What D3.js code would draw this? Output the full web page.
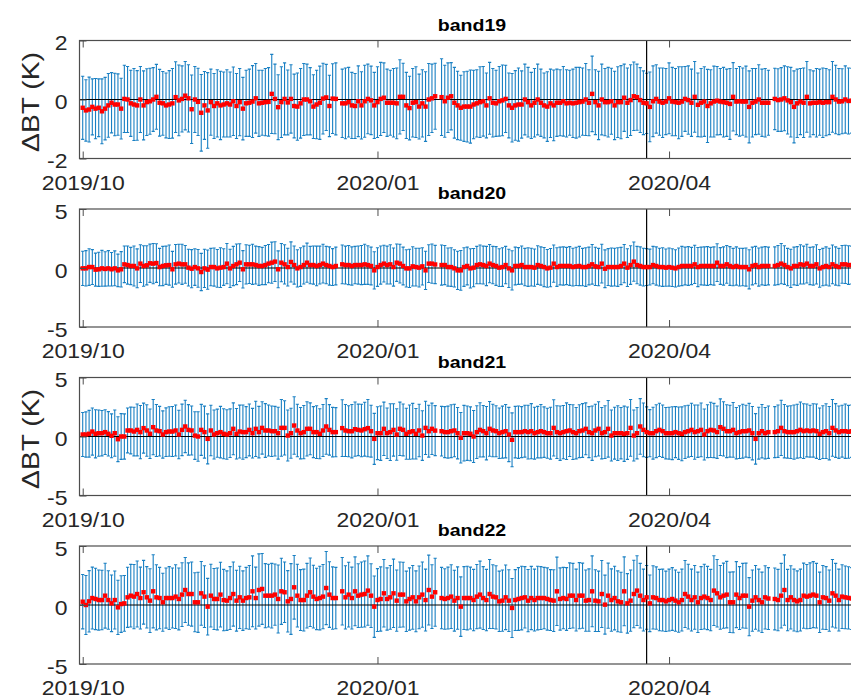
<!DOCTYPE html>
<meta charset="utf-8">
<html>
<head>
<script src="https://d3js.org/d3.v7.min.js"></script>
<style>
body { margin: 0; background: #ffffff; }
svg text { font-family: "Liberation Sans", Arial, Helvetica, sans-serif; }
</style>
</head>
<body>
<div id="chart"></div>
<script>

// one value per day starting at firstDay, null = no observation that day
var firstDay = new Date(2019, 9, 1);
var bandNames = ["band19", "band20", "band21", "band22"];
var yDomains = [[-2, 2], [-5, 5], [-5, 5], [-5, 5]];
var yTicks = [[-2, 0, 2], [-5, 0, 5], [-5, 0, 5], [-5, 0, 5]];
var xTicks = [new Date(2019, 9, 1), new Date(2020, 0, 1), new Date(2020, 3, 1)];
var xTickLabels = ["2019/10", "2020/01", "2020/04"];
var eventDay = new Date(2020, 2, 25);
var yLabelText = "\u0394BT (K)";
var yLabelPanels = [0, 2];

var band19Mean = [
-0.28,-0.37,-0.34,-0.25,-0.31,-0.28,-0.40,-0.31,-0.20,-0.11,
-0.17,-0.17,-0.31,0.02,0.00,-0.13,-0.17,-0.20,0.00,-0.20,
-0.09,-0.06,0.00,0.09,-0.11,-0.13,-0.20,-0.17,-0.13,0.08,
-0.03,0.02,0.13,0.04,-0.33,0.00,-0.08,-0.45,-0.20,-0.37,
-0.09,-0.22,-0.13,-0.20,-0.17,-0.13,-0.17,-0.06,-0.22,-0.09,
-0.31,-0.13,-0.11,-0.07,0.04,-0.13,-0.11,-0.09,-0.08,0.19,
0.02,-0.26,-0.09,0.02,-0.10,0.02,-0.22,-0.24,-0.13,0.00,
0.00,-0.06,-0.24,-0.17,-0.11,0.03,0.07,-0.22,0.03,0.02,
null,-0.13,-0.13,-0.09,-0.20,-0.22,-0.06,-0.20,-0.06,0.02,
-0.03,-0.20,-0.09,0.02,0.06,-0.11,-0.11,-0.11,-0.13,0.09,
0.09,-0.20,-0.29,-0.11,-0.09,-0.24,-0.13,-0.24,0.00,0.04,
0.11,null,0.08,-0.06,0.06,0.11,-0.11,-0.20,-0.28,-0.24,
-0.24,-0.24,-0.17,-0.13,-0.09,-0.06,-0.20,0.04,-0.11,-0.13,
-0.06,-0.03,0.02,-0.20,-0.28,-0.20,-0.17,-0.17,0.00,-0.09,
-0.20,-0.11,0.00,-0.11,-0.20,-0.24,-0.13,-0.20,-0.11,-0.11,
-0.06,-0.13,-0.11,-0.13,-0.11,-0.09,-0.07,0.00,-0.11,0.19,
-0.09,-0.20,0.00,-0.09,-0.09,-0.06,-0.20,-0.09,-0.09,0.06,
-0.11,-0.02,0.11,0.08,-0.02,-0.11,-0.13,-0.25,-0.06,0.02,
-0.07,-0.11,-0.07,0.04,-0.07,-0.09,-0.11,-0.07,0.02,-0.02,
-0.11,0.09,-0.18,-0.11,-0.07,-0.22,-0.13,-0.07,-0.04,-0.07,
-0.09,-0.11,-0.15,0.09,-0.07,-0.06,-0.07,-0.07,-0.25,-0.11,
-0.07,0.00,-0.11,-0.11,-0.11,null,0.02,-0.02,0.00,0.04,
-0.03,-0.09,-0.25,-0.13,-0.07,-0.11,0.09,-0.13,-0.11,-0.11,
-0.09,-0.11,-0.09,-0.09,0.09,0.00,-0.07,-0.06,0.00,-0.05,
-0.04];
var band19Err = [
1.07,1.04,1.10,0.95,1.02,0.98,1.10,1.06,1.08,1.02,
1.06,1.04,1.03,1.14,1.12,1.12,1.22,1.18,1.12,1.17,
1.13,1.12,1.08,1.10,1.13,1.08,1.10,1.15,1.18,1.20,
1.20,1.12,1.16,1.14,1.16,1.12,1.14,1.30,1.15,1.28,
1.12,1.10,1.14,1.16,1.10,1.14,1.10,1.16,1.10,1.14,
1.06,1.12,1.14,1.22,1.18,1.12,1.10,1.14,1.16,1.34,
1.18,1.10,1.20,1.22,1.10,1.16,1.08,1.14,1.18,1.22,
1.20,1.14,1.08,1.16,1.24,1.20,1.12,1.04,1.18,1.22,
null,1.16,1.20,1.18,1.12,1.10,1.20,1.14,1.22,1.18,
1.16,1.12,1.20,1.24,1.18,1.14,1.10,1.16,1.20,1.26,
1.14,1.12,1.08,1.16,1.20,1.10,1.14,1.18,1.22,1.16,
1.12,null,1.30,1.22,1.18,1.14,1.20,1.16,1.10,1.18,
1.20,1.24,1.16,1.14,1.20,1.18,1.10,1.22,1.16,1.12,
1.18,1.20,1.14,1.10,1.16,1.18,1.24,1.14,1.20,1.18,
1.12,1.16,1.20,1.14,1.10,1.18,1.16,1.20,1.14,1.12,
1.18,1.14,1.10,1.16,1.20,1.18,1.14,1.22,1.12,1.28,
1.10,1.16,1.20,1.14,1.18,1.12,1.16,1.20,1.24,1.14,
1.18,1.20,1.16,1.12,1.10,1.08,1.02,1.18,1.20,1.16,
1.14,1.18,1.12,1.20,1.16,1.14,1.22,1.18,1.10,1.16,
1.14,1.20,1.08,1.16,1.18,1.24,1.14,1.20,1.16,1.12,
1.18,1.14,1.20,1.16,1.12,1.18,1.14,1.20,1.22,1.16,
1.12,1.18,1.14,1.16,1.10,null,1.04,1.06,1.08,1.10,
1.14,1.18,1.22,1.16,1.12,1.18,1.20,1.14,1.08,1.16,
1.12,1.18,1.14,1.10,1.20,1.16,1.12,1.10,1.14,1.12,
1.10];

var band20Mean = [
-0.03,-0.03,0.08,0.08,-0.14,-0.11,-0.03,-0.08,-0.03,-0.11,
-0.03,-0.20,-0.11,0.31,0.25,0.17,0.17,-0.03,0.37,0.17,
0.23,0.40,0.37,0.42,0.08,0.17,0.23,0.25,-0.11,0.31,
0.37,0.31,0.31,0.03,-0.06,0.08,-0.03,-0.34,-0.03,-0.14,
0.08,0.08,-0.03,0.03,0.08,0.37,-0.03,0.17,0.31,0.45,
-0.11,0.31,0.31,0.31,0.25,0.17,0.17,0.25,0.37,0.45,
0.54,-0.11,0.45,0.31,0.08,0.51,0.25,-0.03,0.08,0.25,
0.45,0.25,0.25,0.17,0.25,0.37,0.25,0.17,0.08,0.17,
null,0.31,0.25,0.25,0.17,0.25,0.25,0.25,0.31,0.25,
0.17,-0.20,0.08,0.25,0.37,0.25,0.31,0.08,0.45,0.37,
0.17,-0.03,-0.03,0.14,0.08,0.03,0.14,-0.20,0.37,0.37,
0.30,null,0.25,0.25,0.08,0.08,-0.03,-0.20,-0.20,0.08,
0.17,-0.03,0.03,0.25,0.31,0.25,0.17,0.37,0.25,0.17,
0.03,0.08,0.25,-0.03,-0.20,0.17,0.17,0.25,0.08,0.08,
0.08,0.03,0.25,0.17,0.08,-0.03,0.03,0.37,0.08,0.17,
0.17,0.17,0.17,0.08,0.14,0.17,0.08,0.08,0.17,0.31,
0.14,0.08,0.37,-0.06,0.08,0.08,0.08,0.08,0.17,0.37,
0.03,0.25,0.54,0.25,0.17,0.08,0.08,0.08,0.25,0.17,
0.08,0.08,0.03,0.08,0.03,-0.03,0.08,0.17,0.17,0.17,
0.17,0.31,0.08,0.17,0.17,0.17,0.17,0.17,0.45,0.17,
0.17,0.31,0.17,0.08,0.17,0.08,0.08,0.08,-0.11,0.17,
0.25,0.08,0.17,0.17,0.17,null,0.17,0.25,0.37,0.25,
0.08,-0.03,0.17,0.17,0.31,0.25,0.37,0.17,0.17,0.31,
-0.03,0.08,0.17,0.08,0.31,0.17,0.08,0.31,0.31,0.25,
0.25];
var band20Err = [
1.45,1.50,1.55,1.48,1.40,1.45,1.52,1.46,1.50,1.42,
1.48,1.38,1.50,1.55,1.62,1.58,1.70,1.65,1.60,1.72,
1.66,1.62,1.70,1.64,1.58,1.66,1.62,1.70,1.52,1.68,
1.64,1.70,1.60,1.56,1.62,1.55,1.60,1.58,1.62,1.66,
1.58,1.62,1.60,1.68,1.55,1.70,1.62,1.66,1.72,1.60,
1.58,1.66,1.62,1.70,1.60,1.64,1.58,1.66,1.62,1.74,
1.68,1.56,1.62,1.66,1.60,1.70,1.62,1.58,1.64,1.60,
1.66,1.58,1.62,1.68,1.60,1.64,1.58,1.62,1.56,1.60,
null,1.64,1.60,1.66,1.62,1.58,1.62,1.66,1.70,1.64,
1.60,1.58,1.64,1.62,1.56,1.60,1.66,1.62,1.58,1.64,
1.60,1.58,1.62,1.66,1.60,1.64,1.58,1.62,1.60,1.66,
1.62,null,1.70,1.66,1.62,1.64,1.58,1.62,1.68,1.64,
1.60,1.66,1.62,1.58,1.64,1.60,1.66,1.62,1.58,1.64,
1.60,1.64,1.58,1.62,1.66,1.60,1.56,1.62,1.58,1.64,
1.60,1.58,1.64,1.62,1.66,1.60,1.62,1.58,1.64,1.60,
1.62,1.58,1.64,1.60,1.62,1.66,1.58,1.64,1.60,1.68,
1.62,1.58,1.64,1.60,1.56,1.62,1.60,1.64,1.58,1.62,
1.60,1.64,1.66,1.58,1.62,1.60,1.56,1.52,1.58,1.62,
1.60,1.64,1.58,1.62,1.60,1.58,1.62,1.66,1.60,1.64,
1.58,1.62,1.66,1.60,1.62,1.64,1.58,1.62,1.60,1.56,
1.62,1.60,1.64,1.58,1.62,1.60,1.58,1.62,1.66,1.60,
1.58,1.62,1.60,1.64,1.60,null,1.62,1.66,1.70,1.64,
1.58,1.62,1.60,1.64,1.66,1.60,1.64,1.58,1.62,1.66,
1.60,1.58,1.62,1.60,1.64,1.62,1.58,1.60,1.62,1.64,
1.60];

var band21Mean = [
0.17,0.17,0.23,0.42,0.23,0.28,0.28,0.37,0.23,0.06,
0.28,-0.23,0.00,0.00,0.51,0.51,0.42,0.56,0.37,0.71,
0.51,0.23,0.79,0.51,0.45,0.17,0.37,0.42,0.42,0.51,
0.17,0.56,0.85,0.56,0.51,0.08,0.00,0.56,0.37,-0.20,
0.51,0.17,0.28,0.37,0.23,0.17,0.28,0.65,0.23,0.42,
0.37,0.37,0.56,0.28,0.65,0.37,0.73,0.51,0.51,0.45,
0.45,0.28,0.73,0.73,0.08,0.28,0.93,0.51,0.28,0.37,
0.65,0.65,0.37,0.37,0.23,0.51,0.85,0.56,0.37,0.37,
null,0.71,0.51,0.45,0.45,0.62,0.56,0.51,0.62,0.71,
0.45,-0.20,0.28,0.28,0.65,0.28,0.37,0.56,0.17,0.65,
0.56,0.23,0.37,0.45,0.23,0.51,0.08,0.73,0.45,0.65,
0.50,null,0.45,0.37,0.37,0.45,0.51,0.28,-0.11,0.28,
0.28,0.23,0.00,0.37,0.56,0.45,0.28,0.65,0.51,0.45,
0.28,0.37,0.45,0.17,-0.28,0.37,0.37,0.37,0.45,0.37,
0.45,0.28,0.37,0.45,0.37,0.28,0.28,0.73,0.37,0.28,
0.37,0.45,0.51,0.37,0.28,0.45,0.51,0.65,0.37,0.28,
0.51,0.65,0.28,0.37,0.65,0.08,0.28,0.28,0.28,0.23,
0.28,0.73,0.08,0.28,0.85,0.56,0.37,0.28,0.28,0.45,
0.56,0.45,0.28,0.28,0.28,0.37,0.28,0.23,0.37,0.45,
0.56,0.37,0.45,0.56,0.17,0.45,0.56,0.51,0.37,0.79,
0.65,0.45,0.45,0.56,0.28,0.37,0.45,0.45,0.51,0.28,
-0.20,0.28,0.45,0.28,0.37,null,0.37,0.45,0.73,0.45,
0.37,0.37,0.37,0.45,0.56,0.45,0.51,0.45,0.51,0.45,
0.23,0.37,0.45,0.28,0.73,0.51,0.37,0.45,0.45,0.40,
0.45];
var band21Err = [
1.86,1.92,1.98,2.00,2.04,1.96,1.92,1.90,1.88,1.86,
1.96,1.90,1.94,1.92,1.90,1.98,2.06,2.20,2.26,2.12,
2.18,2.10,2.34,2.20,2.10,2.00,2.06,2.10,2.12,2.16,
2.06,2.18,2.22,2.14,2.08,2.02,2.10,2.16,2.20,2.12,
2.14,2.08,2.04,2.18,2.12,2.10,2.06,2.20,2.14,2.24,
2.30,2.16,2.20,2.10,2.34,2.18,2.22,2.28,2.16,2.14,
2.10,2.20,2.40,2.30,2.16,2.12,2.44,2.22,2.18,2.26,
2.30,2.20,2.16,2.24,2.12,2.20,2.36,2.14,2.10,2.08,
null,2.40,2.20,2.16,2.26,2.30,2.18,2.22,2.28,2.42,
2.20,2.16,2.24,2.30,2.26,2.14,2.40,2.22,2.18,2.26,
2.20,2.16,2.30,2.36,2.14,2.22,2.10,2.26,2.20,2.18,
2.12,null,2.10,2.16,2.20,2.24,2.22,2.18,2.14,2.36,
2.30,2.28,2.20,2.24,2.30,2.18,2.26,2.32,2.22,2.16,
2.14,2.20,2.26,2.30,2.28,2.18,2.22,2.16,2.20,2.28,
2.34,2.20,2.18,2.26,2.14,2.12,2.20,2.38,2.24,2.30,
2.26,2.40,2.20,2.32,2.18,2.24,2.28,2.20,2.16,2.30,
2.22,2.30,2.18,2.24,2.40,2.16,2.20,2.32,2.18,2.34,
2.22,2.40,2.16,2.18,2.36,2.28,2.14,2.00,2.20,2.24,
2.26,2.22,2.18,2.20,2.24,2.16,2.22,2.28,2.24,2.20,
2.26,2.30,2.22,2.28,2.16,2.24,2.34,2.30,2.22,2.40,
2.30,2.24,2.20,2.32,2.18,2.24,2.28,2.20,2.30,2.26,
2.14,2.20,2.26,2.18,2.22,null,2.16,2.22,2.34,2.26,
2.20,2.24,2.30,2.28,2.36,2.32,2.24,2.20,2.26,2.30,
2.18,2.24,2.32,2.26,2.40,2.28,2.22,2.20,2.30,2.24,
2.22];

var band22Mean = [
0.28,0.00,0.31,0.59,0.51,0.42,0.42,0.79,0.42,0.14,
0.42,-0.20,0.08,0.14,0.65,0.79,0.71,0.93,0.59,1.08,
0.65,0.37,1.16,0.65,0.59,0.23,0.59,0.59,0.59,0.71,
0.51,0.88,1.27,0.93,0.93,0.23,0.23,0.99,0.71,-0.14,
0.79,0.51,0.51,0.88,0.42,0.37,0.59,0.93,0.37,0.65,
0.37,0.59,0.65,1.16,0.59,1.27,1.36,0.79,0.79,0.79,
0.88,0.51,1.16,1.08,0.31,0.51,1.50,0.79,0.42,0.42,
0.79,1.08,0.71,0.51,0.59,0.71,1.44,0.88,0.59,0.59,
null,1.16,0.65,0.88,0.59,1.16,0.79,0.88,0.93,1.22,
0.79,-0.14,0.42,0.51,0.99,0.51,0.65,0.99,0.37,0.88,
0.88,0.31,0.51,0.65,0.31,0.65,0.88,0.42,1.27,0.71,
1.08,null,0.59,0.51,0.59,0.71,0.37,0.59,-0.14,0.59,
0.59,0.59,0.42,0.71,0.88,0.59,0.42,0.93,0.71,0.65,
0.31,0.37,0.65,0.37,-0.25,0.42,0.51,0.59,0.65,0.37,
0.59,0.42,0.59,0.59,0.59,0.51,0.42,0.37,1.16,0.51,
0.59,0.51,0.79,0.79,0.42,0.79,0.79,0.37,0.42,1.16,
0.37,0.31,0.93,0.03,0.79,0.42,0.59,0.31,0.23,1.16,
0.14,0.37,0.93,1.22,0.79,0.42,0.65,0.14,0.65,0.59,
0.42,0.42,0.31,0.42,0.51,0.37,0.23,0.42,0.93,0.71,
0.42,0.65,0.23,0.59,0.71,0.59,0.42,1.22,0.99,0.65,
0.79,0.88,0.23,0.23,0.88,0.59,0.79,0.79,-0.14,0.37,
0.65,0.42,0.23,0.65,0.55,null,0.51,0.42,0.79,1.27,
0.42,0.65,0.42,0.31,0.42,0.79,0.71,0.79,0.88,0.79,
0.23,0.65,0.59,0.37,0.99,0.79,0.42,0.71,0.65,0.60,
0.55];
var band22Err = [
2.30,2.50,2.60,2.62,2.60,2.55,2.52,2.75,2.48,2.40,
2.46,2.30,2.40,2.36,2.55,2.65,2.72,2.80,2.62,2.70,
2.60,2.70,3.10,2.76,2.60,2.46,2.55,2.66,2.54,2.70,
2.62,2.70,2.75,2.64,2.72,2.50,2.55,2.70,2.62,2.40,
2.66,2.58,2.62,2.74,2.60,2.52,2.66,2.72,2.58,2.64,
2.52,2.60,2.70,3.00,2.62,3.06,3.00,2.72,2.66,2.74,
2.60,2.88,2.80,2.56,2.60,3.00,2.70,2.66,2.58,2.62,
2.74,2.90,2.66,2.60,2.70,2.72,3.10,2.78,2.64,2.60,
null,2.86,2.68,2.74,2.62,2.92,2.70,2.76,2.80,2.94,
2.70,2.60,2.66,2.72,2.86,2.64,2.70,2.90,2.60,2.76,
2.74,2.56,2.64,2.70,2.58,2.66,2.76,2.62,2.96,2.70,
2.88,null,2.60,2.56,2.62,2.70,2.58,2.64,2.52,2.66,
2.70,2.62,2.60,2.72,2.84,2.66,2.60,2.92,2.70,2.68,
2.56,2.60,2.74,2.62,2.50,2.58,2.66,2.70,2.60,2.64,
2.68,2.62,2.70,2.66,2.60,2.64,2.58,2.62,2.90,2.64,
2.60,2.66,2.78,2.74,2.62,2.80,2.76,2.60,2.64,3.00,
2.62,2.56,2.84,2.50,2.76,2.64,2.70,2.58,2.54,2.92,
2.52,2.60,2.86,2.96,2.74,2.62,2.70,2.40,2.68,2.64,
2.60,2.62,2.56,2.62,2.66,2.60,2.54,2.62,2.84,2.74,
2.62,2.70,2.56,2.66,2.74,2.68,2.60,2.96,2.86,2.70,
2.76,2.82,2.56,2.58,2.80,2.66,2.74,2.76,2.46,2.60,
2.70,2.62,2.56,2.68,2.62,null,2.62,2.60,2.74,2.98,
2.60,2.68,2.62,2.58,2.62,2.76,2.72,2.78,2.80,2.74,
2.56,2.70,2.66,2.60,2.86,2.74,2.62,2.70,2.66,2.64,
2.62];

var means = [band19Mean, band20Mean, band21Mean, band22Mean];
var errs = [band19Err, band20Err, band21Err, band22Err];

// layout
var W = 851, H = 700;
var left = 79.5, right = 864.5;          // right edge of axes sits just outside the picture
var firstTop = 40.5, panelStep = 168.5, panelH = 118;
var axisColor = "#4d4d4d", labelColor = "#262626";
var stretch = "scale(1.15,1)";           // text in the picture is a bit wide

var svg = d3.select("#chart")
  .append("svg")
    .attr("width", W)
    .attr("height", H);

var x = d3.scaleTime()
  .domain([new Date(2019, 8, 30), new Date(2020, 5, 1)])
  .range([left, right]);

bandNames.forEach(function(name, i) {
  var top = firstTop + i * panelStep;
  var y = d3.scaleLinear()
    .domain(yDomains[i])
    .range([top + panelH, top]);

  var pts = means[i].map(function(m, k) {
    return {date: d3.timeDay.offset(firstDay, k), mean: m, err: errs[i][k]};
  }).filter(function(d) { return d.mean != null; });

  var g = svg.append("g");

  // error bars
  g.append("g")
    .attr("stroke", "#0072BD")
    .attr("stroke-width", 1.1)
    .attr("stroke-opacity", 0.9)
    .attr("fill", "none")
    .selectAll("path")
    .data(pts)
    .enter()
    .append("path")
      .attr("d", function(d) {
        var cx = x(d.date), lo = y(d.mean - d.err), hi = y(d.mean + d.err);
        return "M" + cx + "," + lo + "V" + hi +
               "M" + (cx - 1.6) + "," + hi + "H" + (cx + 1.6) +
               "M" + (cx - 1.6) + "," + lo + "H" + (cx + 1.6);
      });

  // zero line
  g.append("line")
    .attr("x1", left).attr("x2", right)
    .attr("y1", y(0)).attr("y2", y(0))
    .attr("stroke", "#000").attr("stroke-width", 1.2);

  // event line
  g.append("line")
    .attr("x1", x(eventDay)).attr("x2", x(eventDay))
    .attr("y1", top).attr("y2", top + panelH)
    .attr("stroke", "#000").attr("stroke-width", 1.2);

  // mean markers
  g.append("g")
    .selectAll("rect")
    .data(pts)
    .enter()
    .append("rect")
      .attr("x", function(d) { return x(d.date) - 2.2; })
      .attr("y", function(d) { return y(d.mean) - 2.2; })
      .attr("width", 4.4)
      .attr("height", 4.4)
      .attr("fill", "#ff0000");

  // box
  g.append("rect")
    .attr("x", left).attr("y", top)
    .attr("width", right - left).attr("height", panelH)
    .attr("fill", "none")
    .attr("stroke", axisColor).attr("stroke-width", 1.2);

  // x axis, ticks inward on top and bottom
  g.append("g")
    .attr("transform", "translate(0," + (top + panelH) + ")")
    .call(d3.axisBottom(x).tickValues(xTicks)
      .tickFormat(function(d, j) { return xTickLabels[j]; })
      .tickSizeInner(-7).tickSizeOuter(0))
    .call(function(a) {
      a.attr("font-family", null);
      a.select(".domain").remove();
      a.selectAll("line").attr("stroke", axisColor);
      a.selectAll("text")
        .attr("y", 31.5).attr("dy", 0)
        .attr("transform", stretch)
        .attr("font-size", 20)
        .attr("fill", labelColor);
    });
  g.append("g")
    .attr("transform", "translate(0," + top + ")")
    .call(d3.axisTop(x).tickValues(xTicks).tickFormat("")
      .tickSizeInner(-7).tickSizeOuter(0))
    .call(function(a) {
      a.select(".domain").remove();
      a.selectAll("line").attr("stroke", axisColor);
    });

  // y axis
  g.append("g")
    .attr("transform", "translate(" + left + ",0)")
    .call(d3.axisLeft(y).tickValues(yTicks[i])
      .tickFormat(function(d) { return String(d); })
      .tickSizeInner(-7).tickSizeOuter(0))
    .call(function(a) {
      a.attr("font-family", null);
      a.select(".domain").remove();
      a.selectAll("line").attr("stroke", axisColor);
      a.selectAll("text")
        .attr("x", -10.5).attr("y", 3).attr("dy", "0.32em")
        .attr("transform", stretch)
        .attr("font-size", 20)
        .attr("fill", labelColor);
    });

  // title
  g.append("text")
    .attr("transform", "translate(" + ((left + right) / 2) + "," + (top - 9.8) + ") " + stretch)
    .attr("text-anchor", "middle")
    .attr("font-weight", "bold")
    .attr("font-size", 17)
    .attr("fill", "#000")
    .text(name);

  if (yLabelPanels.indexOf(i) >= 0) {
    g.append("text")
      .attr("transform", "translate(38.5," + (top + panelH / 2 + 2.5) + ") rotate(-90)")
      .attr("text-anchor", "middle")
      .attr("font-size", 24.5)
      .attr("textLength", 100)
      .attr("lengthAdjust", "spacingAndGlyphs")
      .attr("fill", labelColor)
      .text(yLabelText);
  }
});

</script>
</body>
</html>
